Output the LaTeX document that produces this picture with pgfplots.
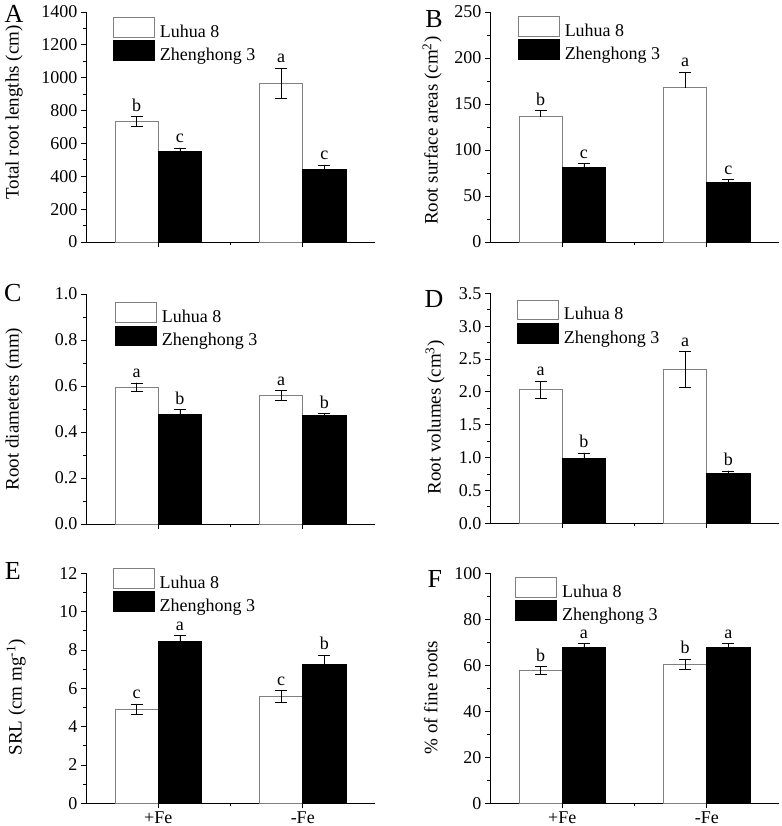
\documentclass[border=0pt]{standalone}
\usepackage{fontspec}
\setmainfont{Liberation Serif}
\usepackage{pgfplots}
\pgfplotsset{compat=1.18}
\newcommand{\fs}{\fontsize{18}{20}\selectfont}
\newcommand{\fl}{\fontsize{19}{22}\selectfont}
\newcommand{\fp}{\fontsize{26}{28}\selectfont}
\pgfplotsset{
 panel/.style={
  scale only axis, width=289pt, height=230pt,
  axis lines*=left, axis line style={line width=0.9pt},
  xmin=0.5, xmax=2.5, ymin=0,
  xtick={1,2}, minor xtick={1.5}, xticklabels={},
  tick align=outside, major tick length=5pt, minor tick length=3pt,
  tick style={black, line width=0.9pt},
  minor y tick num=1,
  tick label style={font=\fs},
  label style={font=\fl},
  /pgf/number format/assume math mode=true,
  /pgf/number format/1000 sep={},
  legend style={draw=none, fill=none, font=\fs, anchor=north west, inner sep=0pt, row sep=0.7pt, column sep=4pt, nodes={inner sep=1pt}},
  legend cell align=left,
  clip=false,
  ylabel style={anchor=center},
 },
 wbar/.style={ybar, bar width=0.3, bar shift=0pt, fill=white, draw=gray, line width=0.8pt,
   legend image code/.code={\draw[fill=white, draw=gray, line width=0.8pt] (0pt,-5.4pt) rectangle (41pt,14.2pt);},
   error bars/.cd, y dir=#1, y explicit, error bar style={black, line width=0.8pt},
   error mark options={rotate=90, mark size=6pt, black, line width=0.8pt}},
 wbar/.default=both,
 bbar/.style={ybar, bar width=0.3, bar shift=0pt, fill=black, draw=black, line width=0.8pt,
   legend image code/.code={\draw[fill=black, draw=black, line width=0.8pt] (0pt,-5.4pt) rectangle (41pt,14.2pt);},
   error bars/.cd, y dir=#1, y explicit, error bar style={black, line width=0.8pt},
   error mark options={rotate=90, mark size=6pt, black, line width=0.8pt}},
 bbar/.default=both,
 lab/.style={only marks, mark=*, mark size=0.1pt, mark options={draw=none, fill=none}, forget plot,
   nodes near coords, point meta=explicit symbolic,
   every node near coord/.append style={anchor=south, font=\fs, black, inner sep=0pt, yshift=5pt}},
}
\begin{document}
\begin{tikzpicture}
\path[use as bounding box] (0pt,0pt) rectangle (781pt,826pt);
% ---------------- A
\begin{axis}[panel, at={(86pt,584pt)}, anchor=south west, ymax=1400, ytick distance=200,
  ylabel={Total root lengths (cm)}, ylabel style={at={(axis description cs:-0.249,0.563)}},
  legend style={at={(axis description cs:0.093,0.979)}}]
\addplot[wbar] table[x=x,y=y,y error=e]{
x y e
0.85 732 30
1.85 966 92
};
\addlegendentry{Luhua 8}
\addplot[bbar] table[x=x,y=y,y error=e]{
x y e
1.15 552 20
2.15 440 28
};
\addlegendentry{Zhenghong 3}
\addplot[lab] table[x=x,y=y,meta=l]{
x y l
0.85 762 b
1.15 572 c
1.85 1058 a
2.15 468 c
};
\node[font=\fp] at (axis description cs:-0.249,0.991) {A};
\end{axis}
% ---------------- B
\begin{axis}[panel, at={(490pt,584pt)}, anchor=south west, ymax=250, ytick distance=50,
  ylabel={Root surface areas (cm\textsuperscript{2})}, ylabel style={at={(axis description cs:-0.20,0.484)}},
  legend style={at={(axis description cs:0.096,0.983)}}]
\addplot[wbar=plus] table[x=x,y=y,y error=e]{
x y e
0.85 136 6.5
1.85 167.6 17
};
\addlegendentry{Luhua 8}
\addplot[bbar=plus] table[x=x,y=y,y error=e]{
x y e
1.15 81.4 4
2.15 64.3 3.7
};
\addlegendentry{Zhenghong 3}
\addplot[lab] table[x=x,y=y,meta=l]{
x y l
0.85 142.5 b
1.15 85.4 c
1.85 184.6 a
2.15 68 c
};
\node[font=\fp] at (axis description cs:-0.194,0.968) {B};
\end{axis}
% ---------------- C
\begin{axis}[panel, at={(86pt,302pt)}, anchor=south west, ymax=1.0, ytick distance=0.2,
  yticklabel style={/pgf/number format/.cd, fixed, fixed zerofill, precision=1},
  ylabel={Root diameters (mm)}, ylabel style={at={(axis description cs:-0.249,0.5)}},
  legend style={at={(axis description cs:0.100,0.965)}}]
\addplot[wbar] table[x=x,y=y,y error=e]{
x y e
0.85 0.595 0.018
1.85 0.558 0.021
};
\addlegendentry{Luhua 8}
\addplot[bbar] table[x=x,y=y,y error=e]{
x y e
1.15 0.475 0.022
2.15 0.471 0.009
};
\addlegendentry{Zhenghong 3}
\addplot[lab] table[x=x,y=y,meta=l]{
x y l
0.85 0.613 a
1.15 0.497 b
1.85 0.579 a
2.15 0.480 b
};
\node[font=\fp] at (axis description cs:-0.253,1.004) {C};
\end{axis}
% ---------------- D
\begin{axis}[panel, at={(490pt,302.7pt)}, anchor=south west, ymax=3.5, ytick distance=0.5,
  yticklabel style={/pgf/number format/.cd, fixed, fixed zerofill, precision=1},
  ylabel={Root volumes (cm\textsuperscript{3})}, ylabel style={at={(axis description cs:-0.19,0.46)}},
  legend style={at={(axis description cs:0.093,0.973)}}]
\addplot[wbar] table[x=x,y=y,y error=e]{
x y e
0.85 2.03 0.13
1.85 2.34 0.27
};
\addlegendentry{Luhua 8}
\addplot[bbar] table[x=x,y=y,y error=e]{
x y e
1.15 0.98 0.09
2.15 0.755 0.04
};
\addlegendentry{Zhenghong 3}
\addplot[lab] table[x=x,y=y,meta=l]{
x y l
0.85 2.16 a
1.15 1.07 b
1.85 2.61 a
2.15 0.795 b
};
\node[font=\fp] at (axis description cs:-0.194,0.974) {D};
\end{axis}
% ---------------- E
\begin{axis}[panel, at={(86pt,22.7pt)}, anchor=south west, ymax=12, ytick distance=2,
  xticklabels={+Fe,-Fe},
  ylabel={SRL (cm mg\textsuperscript{-1})}, ylabel style={at={(axis description cs:-0.242,0.46)}},
  legend style={at={(axis description cs:0.092,1.024)}}]
\addplot[wbar] table[x=x,y=y,y error=e]{
x y e
0.85 4.9 0.27
1.85 5.56 0.31
};
\addlegendentry{Luhua 8}
\addplot[bbar] table[x=x,y=y,y error=e]{
x y e
1.15 8.45 0.3
2.15 7.23 0.49
};
\addlegendentry{Zhenghong 3}
\addplot[lab] table[x=x,y=y,meta=l]{
x y l
0.85 5.17 c
1.15 8.75 a
1.85 5.87 c
2.15 7.72 b
};
\node[font=\fp] at (axis description cs:-0.253,1.009) {E};
\end{axis}
% ---------------- F
\begin{axis}[panel, at={(490pt,22.7pt)}, anchor=south west, ymax=100, ytick distance=20,
  xticklabels={+Fe,-Fe},
  ylabel={\% of fine roots}, ylabel style={at={(axis description cs:-0.205,0.46)}},
  legend style={at={(axis description cs:0.087,0.985)}}]
\addplot[wbar] table[x=x,y=y,y error=e]{
x y e
0.85 57.8 1.6
1.85 60.5 2.2
};
\addlegendentry{Luhua 8}
\addplot[bbar] table[x=x,y=y,y error=e]{
x y e
1.15 67.9 1.6
2.15 67.8 1.7
};
\addlegendentry{Zhenghong 3}
\addplot[lab] table[x=x,y=y,meta=l]{
x y l
0.85 59.4 b
1.15 69.5 a
1.85 62.7 b
2.15 69.5 a
};
\node[font=\fp] at (axis description cs:-0.191,0.974) {F};
\end{axis}
\end{tikzpicture}
\end{document}
